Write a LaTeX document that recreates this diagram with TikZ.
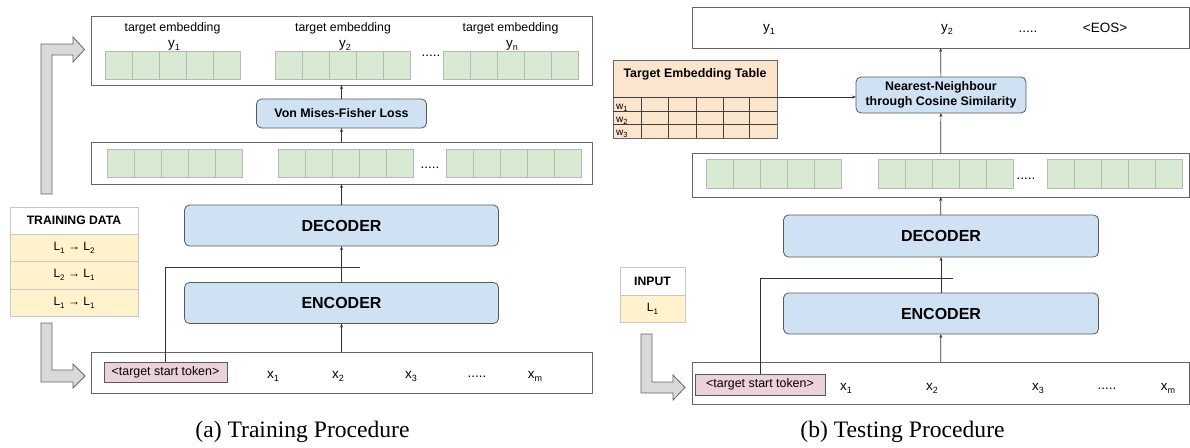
\documentclass[tikz,border=0pt]{standalone}
\usepackage{fontspec}
\setmainfont{Liberation Sans}
\newfontfamily\capfont{Liberation Serif}
\usepackage{tikz}
\usetikzlibrary{positioning,arrows.meta}

\definecolor{greenF}{HTML}{D9EAD3}
\definecolor{blueF}{HTML}{CFE2F3}
\definecolor{yellowF}{HTML}{FFF2CC}
\definecolor{pinkF}{HTML}{EAD1DC}
\definecolor{orangeF}{HTML}{FCE5CD}
\definecolor{arrowF}{HTML}{D9D9D9}
\newcommand{\lowix}[2][9]{\raisebox{-0.45ex}{\fontsize{#1}{#1}\selectfont #2}}

\begin{document}
\begin{tikzpicture}[x=1pt, y=-1pt,
node distance = 0pt and 0pt,
panel/.style={rectangle, draw=black!60, fill=white, line width=0.8pt, inner sep=0pt, outer sep=0pt},
block/.style={rectangle, rounded corners=5pt, draw=black!65, fill=blueF, line width=0.8pt, inner sep=0pt, outer sep=0pt, align=center, font=\fontsize{12.4}{14.5}\selectfont\bfseries},
bigblock/.style={block, minimum width=314pt, minimum height=41pt, font=\fontsize{16}{18}\selectfont\bfseries},
cell/.style={rectangle, draw=black!28, fill=greenF, line width=0.7pt, minimum width=27pt, minimum height=28pt, inner sep=0pt},
token/.style={rectangle, draw=black!65, fill=pinkF, line width=0.8pt, minimum width=123pt, minimum height=20pt, inner sep=0pt, font=\fontsize{12.4}{14}\selectfont},
datahead/.style={rectangle, draw=black!22, fill=white, line width=0.8pt, inner sep=0pt, outer sep=0pt, font=\fontsize{12.2}{14}\selectfont\bfseries},
datarow/.style={datahead, fill=yellowF, font=\fontsize{12}{14}\selectfont},
emblab/.style={anchor=base, inner sep=0pt, font=\fontsize{12.3}{14}\selectfont},
var/.style={anchor=base, inner sep=0pt, font=\fontsize{13.5}{15}\selectfont},
wlab/.style={anchor=base west, inner sep=0pt, font=\fontsize{10}{11}\selectfont},
grid/.style={draw=black!75, line width=0.7pt},
conn/.style={draw=black!80, line width=0.7pt},
arr/.style={conn, -{Stealth[length=4pt, width=3pt]}},
bigarrow/.style={draw=black!60, fill=arrowF, line width=0.8pt, line join=miter},
caption/.style={anchor=base, inner sep=0pt, font=\capfont\fontsize{23.6}{26}\selectfont}]

\useasboundingbox (0,0) rectangle (1190,447);

% (a) training
\node[panel, minimum width=501pt, minimum height=69pt] (tgt) at (341.5,50.5) {};
\node[block, minimum width=170pt, minimum height=29pt] (vmf) at (341.5,113.5) {Von Mises-Fisher Loss};
\node[panel, minimum width=501pt, minimum height=42pt] (mid) at (341.5,163) {};
\node[bigblock] (dec) at (341.5,225.5) {DECODER};
\node[bigblock] (enc) at (341.5,303) {ENCODER};
\node[panel, minimum width=501pt, minimum height=41pt] (inp) at (341.5,372.5) {};
\node[token] (tok) at (165.5,372) {<target start token>};

\node[emblab] (te1) at (172.5,31) {target embedding};
\node[emblab] (te2) at (343,31) {target embedding};
\node[emblab] (te3) at (510.5,31) {target embedding};
\node[var] (ty1) at (174,47) {y\lowix{1}};
\node[var] (ty2) at (345,47) {y\lowix{2}};
\node[var] (tyn) at (512,47) {y\lowix{n}};
\node[var] (tdots) at (431,56) {.....};
\node[var] (mdots) at (430,168) {.....};

\foreach \gx/\gy/\gn in {105/65.5/ta, 275/65.5/tb, 443/65.5/tc, 107/163/ma, 278/163/mb, 446/163/mc}
  \foreach \k in {0,...,4}
    \node[cell] (\gn\k) at (\gx+13.5+27*\k, \gy) {};

\node[var] (x1) at (273,378) {x\lowix{1}};
\node[var] (x2) at (338,378) {x\lowix{2}};
\node[var] (x3) at (411,378) {x\lowix{3}};
\node[var] (xdots) at (477,377) {.....};
\node[var] (xm) at (535,378) {x\lowix{m}};

\draw[arr] (inp) -- (enc);
\draw[arr] (enc) -- (dec);
\draw[arr] (dec) -- (mid);
\draw[arr] (mid) -- (vmf);
\draw[arr] (vmf) -- (tgt);
\coordinate (fbl) at (360,267);
\draw[conn] (tok.north) |- (fbl);

\node[datahead, minimum width=128pt, minimum height=27pt] (trh) at (74,220.5) {TRAINING DATA};
\node[datarow, minimum width=128pt, minimum height=27.5pt, below=of trh] (tr1) {L\lowix[8]{1} → L\lowix[8]{2}};
\node[datarow, minimum width=128pt, minimum height=27.5pt, below=of tr1] (tr2) {L\lowix[8]{2} → L\lowix[8]{1}};
\node[datarow, minimum width=128pt, minimum height=27.5pt, below=of tr2] (tr3) {L\lowix[8]{1} → L\lowix[8]{1}};

\draw[bigarrow] (41,194) -- (41,44) -- (73,44) -- (73,37) -- (84.5,49.5) -- (73,62) -- (73,55) -- (52,55) -- (52,194) -- cycle;
\draw[bigarrow] (41,323) -- (52,323) -- (52,370) -- (73,370) -- (73,364) -- (85,376) -- (73,388) -- (73,382) -- (41,382) -- cycle;

\node[caption] (capa) at (302.5,437) {(a) Training Procedure};

% (b) testing
\node[panel, minimum width=497pt, minimum height=41pt] (out) at (940.5,27.5) {};
\node[block, minimum width=170pt, minimum height=36pt] (nn) at (941,95) {Nearest-Neighbour\\through Cosine Similarity};
\node[panel, minimum width=497pt, minimum height=44pt] (mid2) at (940.5,175) {};
\node[bigblock, minimum width=315pt, minimum height=42pt] (dec2) at (941,236) {DECODER};
\node[bigblock, minimum width=315pt] (enc2) at (941,313.5) {ENCODER};
\node[panel, minimum width=497pt, minimum height=42pt] (inp2) at (940.5,383) {};
\node[token, minimum width=130pt, minimum height=21pt] (tok2) at (760,384.5) {<target start token>};

\node[var] (oy1) at (769,31) {y\lowix{1}};
\node[var] (oy2) at (947,31) {y\lowix{2}};
\node[var] (odots) at (1028,32) {.....};
\node[var] (eos) at (1105,32) {<EOS>};
\node[var] (m2dots) at (1026,179) {.....};

\foreach \gx/\gn in {706/na, 878/nb, 1047/nc}
  \foreach \k in {0,...,4}
    \node[cell, minimum height=29pt] (\gn\k) at (\gx+13.5+27*\k, 173.5) {};

\node[var] (u1) at (846,390) {x\lowix{1}};
\node[var] (u2) at (932,390) {x\lowix{2}};
\node[var] (u3) at (1038,390) {x\lowix{3}};
\node[var] (udots) at (1107,389) {.....};
\node[var] (um) at (1168,390) {x\lowix{m}};

\node[panel, fill=orangeF, minimum width=164pt, minimum height=37pt] (embh) at (695,78.5) {};
\node[inner sep=0pt, font=\fontsize{12.4}{14}\selectfont\bfseries] (embt) at (695,74) {Target Embedding Table};
\node[panel, fill=orangeF, minimum width=164pt, minimum height=41pt, below=of embh] (embb) {};
\foreach \c in {641,668,696,723,749}
  \draw[grid] (\c,97) -- (\c,138);
\foreach \r in {111,124}
  \draw[grid] (613,\r) -- (777,\r);
\draw[grid] (embh.south west) -- (embh.south east);
\node[wlab] (w1) at (616,109) {w\lowix[7.5]{1}};
\node[wlab] (w2) at (616,122) {w\lowix[7.5]{2}};
\node[wlab] (w3) at (616,135) {w\lowix[7.5]{3}};

\draw[arr] (inp2) -- (enc2);
\draw[arr] (enc2) -- (dec2);
\draw[arr] (dec2) -- (mid2);
\draw[arr] (mid2) -- (nn);
\draw[arr] (nn) -- (out);
\draw[arr] (embh.south east) -- (nn.west |- embh.south east);
\coordinate (fbr) at (953,278);
\draw[conn] (tok2.north) |- (fbr);

\node[datahead, minimum width=65pt, minimum height=28pt] (inh) at (652.5,281) {INPUT};
\node[datarow, minimum width=65pt, minimum height=27pt, below=of inh] (in1) {L\lowix[8]{1}};

\draw[bigarrow] (641,334) -- (652,334) -- (652,382) -- (673,382) -- (673,375) -- (685,387.5) -- (673,400) -- (673,393) -- (641,393) -- cycle;

\node[caption] (capb) at (902.5,437) {(b) Testing Procedure};
\end{tikzpicture}
\end{document}
